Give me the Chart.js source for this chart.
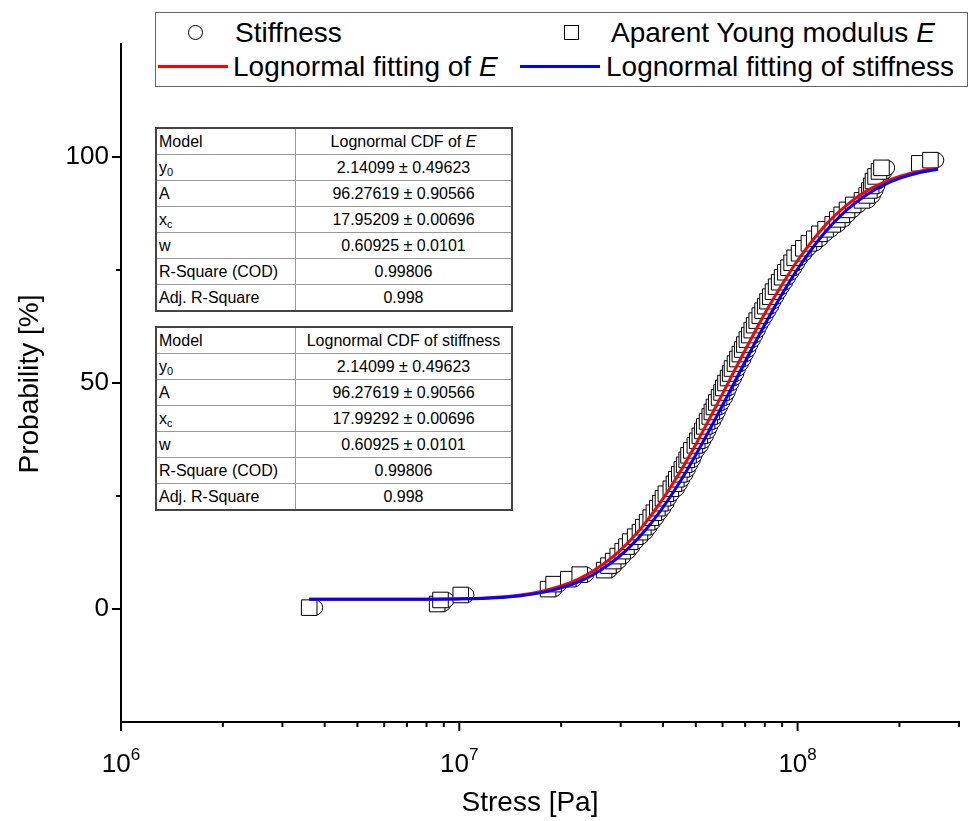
<!DOCTYPE html>
<html>
<head>
<meta charset="utf-8">
<script src="https://cdn.jsdelivr.net/npm/chart.js@4/dist/chart.umd.min.js"></script>
<style>
  body { margin: 0; background: #fff; }
  #wrap { position: relative; width: 971px; height: 821px; font-family: "Liberation Sans", Arial, sans-serif; color: #000; }
  #chart { position: absolute; left: 0; top: 0; }
  .legend { position: absolute; left: 155px; top: 12px; width: 813px; height: 75px; border: 1px solid #666; box-sizing: border-box; background: #fff; }
  .legend .txt { position: absolute; font-size: 28px; line-height: 28px; white-space: nowrap; }
  .legend .circ { position: absolute; width: 13px; height: 13px; border: 1px solid #000; border-radius: 50%; background: #fff; }
  .legend .sq { position: absolute; width: 13px; height: 13px; border: 1px solid #000; background: #fff; }
  .legend .ln { position: absolute; height: 3px; }
  table.fit { position: absolute; left: 155px; width: 358px; border-collapse: collapse; font-size: 16px; background: #fff; border: 2px solid #444; }
  table.fit td { border: 1px solid #999; height: 25px; padding: 0 2px; line-height: 16px; }
  table.fit td:first-child { width: 134px; text-align: left; }
  table.fit td:last-child { text-align: center; }
  sub { font-size: 11px; vertical-align: -3px; line-height: 0; }
</style>
</head>
<body>
<div id="wrap">
  <canvas id="chart" width="971" height="821"></canvas>

  <div class="legend">
    <div class="circ" style="left:32px;top:12px"></div>
    <div class="txt" style="left:79px;top:6px">Stiffness</div>
    <div class="sq" style="left:408px;top:12px"></div>
    <div class="txt" style="left:455px;top:6px">Aparent Young modulus <i>E</i></div>
    <div class="ln" style="left:2px;top:52px;width:70px;background:#ff0000"></div>
    <div class="txt" style="left:77px;top:40px">Lognormal fitting of <i>E</i></div>
    <div class="ln" style="left:364px;top:52px;width:80px;background:#0000ff"></div>
    <div class="txt" style="left:450px;top:40px">Lognormal fitting of stiffness</div>
  </div>

  <table class="fit" style="top:127px">
    <tr><td>Model</td><td>Lognormal CDF of <i>E</i></td></tr>
    <tr><td>y<sub>0</sub></td><td>2.14099 ± 0.49623</td></tr>
    <tr><td>A</td><td>96.27619 ± 0.90566</td></tr>
    <tr><td>x<sub>c</sub></td><td>17.95209 ± 0.00696</td></tr>
    <tr><td>w</td><td>0.60925 ± 0.0101</td></tr>
    <tr><td>R-Square (COD)</td><td>0.99806</td></tr>
    <tr><td>Adj. R-Square</td><td>0.998</td></tr>
  </table>

  <table class="fit" style="top:326px">
    <tr><td>Model</td><td>Lognormal CDF of stiffness</td></tr>
    <tr><td>y<sub>0</sub></td><td>2.14099 ± 0.49623</td></tr>
    <tr><td>A</td><td>96.27619 ± 0.90566</td></tr>
    <tr><td>x<sub>c</sub></td><td>17.99292 ± 0.00696</td></tr>
    <tr><td>w</td><td>0.60925 ± 0.0101</td></tr>
    <tr><td>R-Square (COD)</td><td>0.99806</td></tr>
    <tr><td>Adj. R-Square</td><td>0.998</td></tr>
  </table>
</div>

<script>
  // cumulative probability of each ranked sample [%]
  const probability = [
    0.3, 1.1, 2.0, 3.1, 4.4, 5.5, 6.6, 7.6, 8.6, 9.6,
    10.6, 11.7, 12.8, 13.8, 14.9, 16.0, 17.0, 18.1, 19.2, 20.2,
    21.3, 22.3, 23.4, 24.5, 25.5, 26.6, 27.7, 28.7, 29.8, 30.9,
    31.9, 33.0, 34.0, 35.1, 36.2, 37.2, 38.3, 39.4, 40.4, 41.5,
    42.6, 43.6, 44.7, 45.7, 46.8, 47.9, 48.9, 50.0, 51.1, 52.1,
    53.2, 54.3, 55.3, 56.4, 57.4, 58.5, 59.6, 60.6, 61.7, 62.8,
    63.8, 64.9, 66.0, 67.0, 68.1, 69.1, 70.2, 71.3, 72.3, 73.4,
    74.5, 75.5, 76.6, 77.7, 78.7, 79.8, 80.9, 81.9, 83.0, 84.0,
    85.1, 86.2, 87.2, 88.3, 89.4, 90.4, 91.5, 92.6, 93.6, 94.7,
    95.7, 96.8, 97.6, 98.6, 99.3
  ];

  // apparent Young modulus E [MPa]
  const youngModulus = [
    3.6, 8.6, 8.8, 10.1, 18.3, 19.0, 21.0, 22.7, 26.8, 27.6,
    28.5, 29.4, 30.4, 31.2, 32.0, 33.1, 34.2, 35.0, 35.9, 36.8,
    37.6, 38.5, 39.3, 40.0, 40.8, 42.2, 43.1, 43.8, 44.7, 45.5,
    46.2, 47.0, 47.6, 48.5, 49.7, 50.5, 51.4, 52.3, 53.0, 54.0,
    55.0, 55.8, 56.6, 57.5, 58.6, 59.6, 60.3, 61.2, 62.3, 63.2,
    64.0, 65.3, 66.4, 67.5, 68.6, 69.6, 70.8, 72.0, 73.2, 74.4,
    75.7, 77.3, 78.8, 80.2, 81.5, 83.0, 84.6, 86.4, 88.2, 90.0,
    92.0, 94.0, 96.0, 98.0, 101, 104, 108, 112, 116, 121,
    127, 131, 135, 140, 146, 155, 160, 163, 165, 167,
    170, 174, 177, 229, 247
  ];

  // stiffness [MPa]
  const stiffness = [
    3.75, 8.96, 9.17, 10.5, 19.1, 19.8, 21.9, 23.7, 27.9, 28.8,
    29.7, 30.6, 31.7, 32.5, 33.3, 34.5, 35.6, 36.5, 37.4, 38.3,
    39.2, 40.1, 41.0, 41.7, 42.5, 44.0, 44.9, 45.6, 46.6, 47.4,
    48.1, 49.0, 49.6, 50.5, 51.8, 52.6, 53.6, 54.5, 55.2, 56.3,
    57.3, 58.1, 59.0, 59.9, 61.1, 62.1, 62.8, 63.8, 64.9, 65.9,
    66.7, 68.0, 69.2, 70.3, 71.5, 72.5, 73.8, 75.0, 76.3, 77.5,
    78.9, 80.5, 82.1, 83.6, 84.9, 86.5, 88.2, 90.0, 91.9, 93.8,
    95.9, 97.9, 100.0, 102.1, 105, 108, 113, 117, 121, 126,
    132, 137, 141, 146, 152, 162, 167, 170, 172, 174,
    177, 181, 184, 239, 257
  ];

  // fitted curves
  const fitStress = [3.6, 6, 8, 10, 12, 15, 17.5, 20, 22.5, 25, 30, 35, 40, 45, 50,
                     55, 60, 65, 70, 75, 80, 90, 100, 120, 140, 160, 180, 200, 230, 260];
  const fitE = [2.14, 2.15, 2.18, 2.27, 2.46, 3.05, 3.89, 5.08, 6.62, 8.5, 13.1, 18.5, 24.4, 30.4, 36.4,
                42.2, 47.6, 52.7, 57.3, 61.5, 65.4, 71.8, 77.1, 84.7, 89.4, 92.5, 94.4, 95.7, 96.85, 97.5];
  const fitStiffness = [2.14, 2.14, 2.17, 2.24, 2.40, 2.90, 3.62, 4.66, 6.02, 7.70, 11.89, 16.93, 22.48, 28.26, 34.08,
                        39.70, 45.07, 50.09, 54.77, 59.04, 62.95, 69.69, 75.22, 83.19, 88.34, 91.67, 93.82, 95.26, 96.56, 97.30];

  // axis ticks
  const xExponents = [6, 7, 8];
  const yMajorTicks = [0, 50, 100];
  const yMinorTicks = [25, 75];

  const MPa = 1e6;
  const toPts = (xs, ys) => xs.map((v, i) => ({ x: v * MPa, y: ys[i] }));

  const axesPlugin = {
    id: 'originAxes',
    afterDraw(chart) {
      const { ctx, chartArea: a, scales: { x, y } } = chart;
      ctx.save();
      ctx.strokeStyle = '#000';
      ctx.lineWidth = 2;
      ctx.beginPath();
      // x ticks: decades + minor 2..9
      for (let e = 6; e <= 8; e++) {
        for (let m = 1; m <= 9; m++) {
          const v = m * Math.pow(10, e);
          if (v > x.max * 1.0001) continue;
          const px = x.getPixelForValue(v);
          ctx.moveTo(px, a.bottom);
          ctx.lineTo(px, a.bottom + (m === 1 ? 9 : 5));
        }
      }
      yMajorTicks.forEach(v => {
        const py = y.getPixelForValue(v);
        ctx.moveTo(a.left, py); ctx.lineTo(a.left - 9, py);
      });
      yMinorTicks.forEach(v => {
        const py = y.getPixelForValue(v);
        ctx.moveTo(a.left, py); ctx.lineTo(a.left - 5, py);
      });
      ctx.stroke();

      ctx.fillStyle = '#000';
      const fam = '"Liberation Sans", Arial, sans-serif';
      // y labels
      ctx.font = '26px ' + fam;
      ctx.textAlign = 'right';
      ctx.textBaseline = 'middle';
      yMajorTicks.forEach(v => ctx.fillText(String(v), a.left - 12, y.getPixelForValue(v)));
      // x labels 10^n
      xExponents.forEach(e => {
        const px = x.getPixelForValue(Math.pow(10, e));
        ctx.font = '26px ' + fam;
        const wb = ctx.measureText('10').width;
        ctx.font = '17px ' + fam;
        const we = ctx.measureText(String(e)).width;
        const x0 = px - (wb + we) / 2;
        ctx.textAlign = 'left';
        ctx.textBaseline = 'alphabetic';
        ctx.font = '26px ' + fam;
        ctx.fillText('10', x0, a.bottom + 50);
        ctx.font = '17px ' + fam;
        ctx.fillText(String(e), x0 + wb, a.bottom + 38);
      });
      // axis titles
      ctx.font = '28px ' + fam;
      ctx.textAlign = 'center';
      ctx.textBaseline = 'middle';
      ctx.fillText('Stress [Pa]', (a.left + a.right) / 2 - 10, 803);
      ctx.translate(30, (a.top + a.bottom) / 2 + 1);
      ctx.rotate(-Math.PI / 2);
      ctx.fillText('Probability [%]', 0, 0);
      ctx.restore();
    }
  };

  new Chart(document.getElementById('chart'), {
    type: 'scatter',
    data: {
      datasets: [
        {
          label: 'Lognormal fitting of stiffness',
          type: 'line',
          data: toPts(fitStress, fitStiffness),
          borderColor: '#0000ff', borderWidth: 3,
          pointRadius: 0, cubicInterpolationMode: 'monotone', fill: false
        },
        {
          label: 'Lognormal fitting of E',
          type: 'line',
          data: toPts(fitStress, fitE),
          borderColor: '#ff0000', borderWidth: 3,
          pointRadius: 0, cubicInterpolationMode: 'monotone', fill: false
        },
        {
          label: 'Aparent Young modulus E',
          data: toPts(youngModulus, probability),
          pointStyle: 'rect', pointRadius: 11,
          backgroundColor: '#fff', borderColor: '#000', borderWidth: 1
        },
        {
          label: 'Stiffness',
          data: toPts(stiffness, probability),
          pointStyle: 'circle', pointRadius: 7.5,
          backgroundColor: '#fff', borderColor: '#000', borderWidth: 1
        }
      ]
    },
    options: {
      responsive: false,
      animation: false,
      layout: { padding: { left: 0, top: 44, right: 8, bottom: 0 } },
      plugins: { legend: { display: false }, tooltip: { enabled: false } },
      scales: {
        x: {
          type: 'logarithmic', min: 1e6, max: 3e8,
          grid: { display: false },
          border: { display: true, color: '#000', width: 2 },
          ticks: { display: false },
          afterFit: s => { s.height = 99; }
        },
        y: {
          type: 'linear', min: -25, max: 125,
          grid: { display: false },
          border: { display: true, color: '#000', width: 2 },
          ticks: { display: false },
          afterFit: s => { s.width = 121; }
        }
      }
    },
    plugins: [axesPlugin]
  });
</script>
</body>
</html>
